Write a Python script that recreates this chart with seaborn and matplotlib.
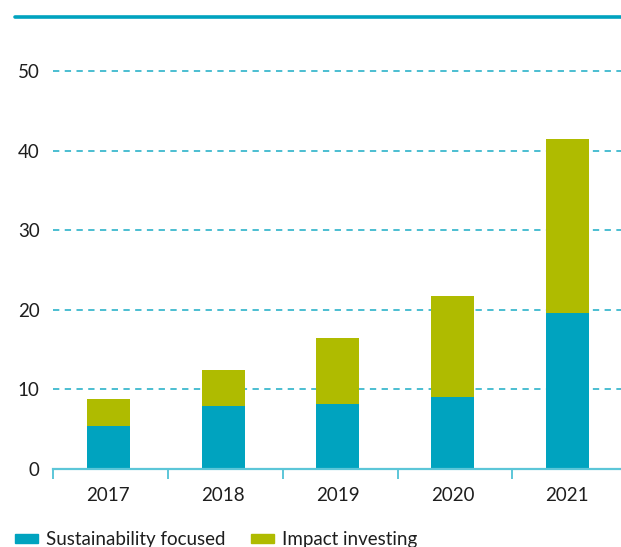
import pandas as pd
import matplotlib.pyplot as plt
import seaborn as sns
from matplotlib.patches import Patch
from matplotlib.lines import Line2D

# -------------------------------
# Data
# -------------------------------
years = ["2017", "2018", "2019", "2020", "2021"]
sustainability = [5.4, 7.9, 8.2, 9.0, 19.6]
impact = [3.4, 4.5, 8.3, 12.7, 21.9]

teal = "#00A3BF"
olive = "#AFBB00"
grid_col = "#3DB9CE"

df = pd.DataFrame({"Year": years, "Sustainability": sustainability, "Impact": impact})
df["Total"] = df["Sustainability"] + df["Impact"]

sns.set_theme(style="white")
plt.rcParams["font.family"] = ["Lato", "DejaVu Sans"]

fig = plt.figure(figsize=(6.21, 5.47), dpi=100)
ax = fig.add_axes([53.5 / 621, 1 - 469 / 547, 1 - 53.5 / 621, (469 - 16.6) / 547])

# stacked bars: total first, then the lower segment on top of it
sns.barplot(data=df, x="Year", y="Total", color=olive, width=0.375,
            saturation=1, linewidth=0, ax=ax, zorder=3)
sns.barplot(data=df, x="Year", y="Sustainability", color=teal, width=0.375,
            saturation=1, linewidth=0, ax=ax, zorder=4)

ax.set_ylim(0, (469 - 16.6) / 7.96)
ax.set_xlim(-0.478, (621 - 108.5) / 114.7)
ax.set_xlabel("")
ax.set_ylabel("")

# gridlines
ax.set_yticks([0, 10, 20, 30, 40, 50])
for v in [10, 20, 30, 40, 50]:
    ax.axhline(v, color=grid_col, lw=1.3, ls=(0, (3.5, 3)), zorder=1)

for s in ["top", "right", "left"]:
    ax.spines[s].set_visible(False)
ax.spines["bottom"].set_color("#5CC6D8")
ax.spines["bottom"].set_linewidth(1.6)
ax.spines["bottom"].set_zorder(5)

# tick marks at category boundaries, labels centred under bars
ax.set_xticks(range(len(years)))
ax.set_xticklabels(years)
ax.set_xticks([k - 0.478 for k in range(len(years))], minor=True)
ax.tick_params(axis="x", which="major", length=0, pad=13, labelsize=13.5, labelcolor="#1e1e1e")
ax.tick_params(axis="x", which="minor", length=7.5, width=1.4, color="#5CC6D8", bottom=True)
ax.tick_params(axis="y", length=0, pad=10, labelsize=13.5, labelcolor="#1e1e1e")

# teal rule across the top
fig.add_artist(Line2D([15 / 621, 1], [1 - 16.6 / 547, 1 - 16.6 / 547],
                      color=teal, lw=2.6, transform=fig.transFigure))

# legend
handles = [Patch(color=teal, label="Sustainability focused"),
           Patch(color=olive, label="Impact investing")]
fig.legend(handles=handles, loc="lower left", bbox_to_anchor=(15 / 621, -0.002),
           ncol=2, frameon=False, fontsize=13.5, handlelength=1.23, handleheight=0.37,
           handletextpad=0.43, columnspacing=1.33, borderpad=0, borderaxespad=0,
           labelcolor="#1e1e1e")

fig.savefig("out.png", dpi=100)
